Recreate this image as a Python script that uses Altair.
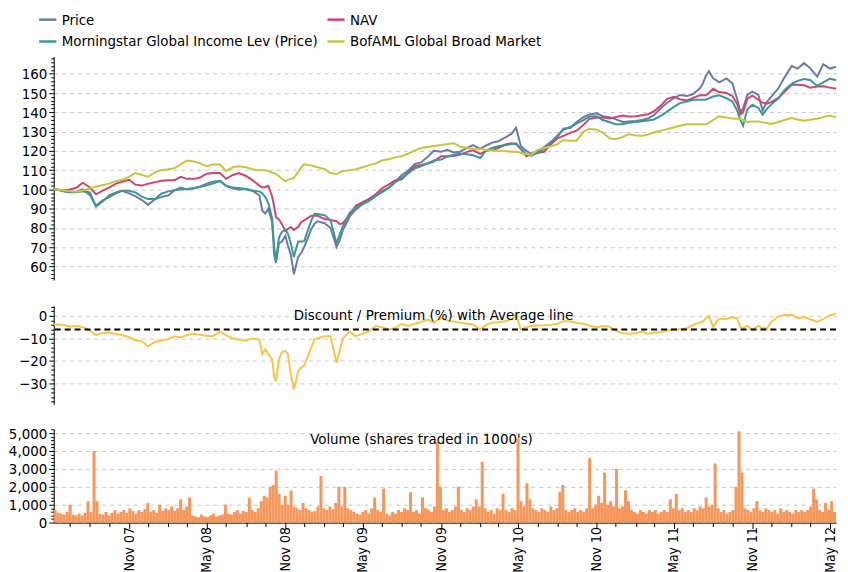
import altair as alt
import pandas as pd

FONT = "Liberation Sans Narrow, Arial Narrow, DejaVu Sans Condensed, sans-serif"
FS = 15

# ---------------- data ----------------
dates = [
    "2007-05-08","2007-05-15","2007-06-01","2007-06-15","2007-07-01","2007-07-15","2007-08-01","2007-08-15","2007-09-01","2007-09-15",
    "2007-10-01","2007-10-15","2007-11-01","2007-11-15","2007-12-01","2007-12-15","2008-01-01","2008-01-15","2008-02-01","2008-02-15",
    "2008-03-01","2008-03-15","2008-04-01","2008-04-15","2008-05-01","2008-05-15","2008-06-01","2008-06-15","2008-07-01","2008-07-15",
    "2008-08-01","2008-08-15","2008-09-01","2008-09-08","2008-09-15","2008-09-22","2008-10-01","2008-10-06","2008-10-10","2008-10-17",
    "2008-10-24","2008-11-01","2008-11-07","2008-11-14","2008-11-21","2008-12-01","2008-12-08","2008-12-15","2009-01-01","2009-01-08",
    "2009-01-15","2009-02-01","2009-02-15","2009-03-01","2009-03-09","2009-03-16","2009-04-01","2009-04-15","2009-05-01","2009-05-15",
    "2009-06-01","2009-06-15","2009-07-01","2009-07-15","2009-08-01","2009-08-15","2009-09-01","2009-09-15","2009-10-01","2009-10-15",
    "2009-11-01","2009-11-15","2009-12-01","2009-12-15","2010-01-01","2010-01-15","2010-02-01","2010-02-15","2010-03-01","2010-03-15",
    "2010-04-01","2010-04-15","2010-04-26","2010-05-07","2010-05-20","2010-06-01","2010-06-15","2010-07-01","2010-07-15","2010-08-01",
    "2010-08-15","2010-09-01","2010-09-15","2010-10-01","2010-10-15","2010-11-01","2010-11-15","2010-12-01","2010-12-15","2011-01-01",
    "2011-01-15","2011-02-01","2011-02-15","2011-03-01","2011-03-15","2011-04-01","2011-04-15","2011-05-01","2011-05-15","2011-06-01",
    "2011-06-15","2011-07-01","2011-07-08","2011-07-15","2011-07-22","2011-08-01","2011-08-15","2011-09-01","2011-09-15","2011-09-26",
    "2011-10-04","2011-10-10","2011-10-20","2011-11-01","2011-11-15","2011-11-25","2011-12-05","2011-12-15","2012-01-01","2012-01-15",
    "2012-02-01","2012-02-15","2012-03-01","2012-03-15","2012-04-01","2012-04-15","2012-05-01","2012-05-15",
]

price = [
    100, 100, 99, 98.5, 99, 100, 97, 91.6, 94.5, 96,
    98, 99.3, 98, 96.5, 94.5, 92, 95, 96, 97, 99.5,
    101, 100, 100.5, 101.5, 103, 104, 104.5, 101.9, 100.5, 100,
    100.2, 99.5, 97, 89, 87.5, 90, 83, 66, 62, 72,
    73, 76, 71, 66, 56, 65, 67, 70, 79.5, 82,
    83.5, 82.5, 80, 70.2, 74, 79, 86, 89.5, 92.4, 94,
    96.5, 99, 100.8, 103.5, 107.5, 109.5, 113.3, 114, 117, 120,
    119.5, 120.5, 119.2, 119.5, 121.5, 123, 121, 122.8, 124.3, 125,
    127, 128.8, 132, 122.6, 120, 118.5, 119.5, 122, 124.5, 127.5,
    131.5, 132, 135, 137.5, 138.9, 139.5, 138, 137.5, 136.5, 135,
    135.3, 135.5, 136, 136.8, 138.5, 142.2, 145, 147.3, 149, 148.5,
    149.5, 152.5, 155, 159, 161.4, 157.6, 155.5, 157.6, 155, 147,
    140, 142, 149, 150.7, 149, 141, 145.5, 148, 152.5, 158,
    164, 162.7, 165.5, 163, 158.5, 165, 162.7, 163.6,
]

nav = [
    100, 100, 99.5, 100, 101, 103.5, 101, 97.5, 99.5, 101,
    103, 104, 105, 102.5, 102, 103, 103.8, 104.5, 104.8, 104.8,
    106.5, 105.5, 105.5, 106.2, 108.2, 108.5, 108.5, 105.5, 107.5, 108.5,
    107, 105, 102, 101, 101.3, 101.8, 96.5, 91, 85.6, 84.5,
    82, 78.5, 79.5, 80.5, 79, 80.5, 83, 84, 86.4, 86.4,
    86.4, 84.7, 84.2, 83.5, 82, 82.5, 87, 91.5, 93.4, 95,
    97.5, 100.5, 102.5, 104.5, 105.3, 108.5, 112.2, 112.7, 113.5, 114.5,
    117.2, 117.2, 117.4, 118, 119.5, 120.3, 118.5, 120, 120.5, 121.5,
    123.3, 124, 123.5, 121, 117.2, 118.5, 118.9, 119.5, 123.1, 126.5,
    127.8, 129.5, 130.5, 133.5, 136.6, 137.2, 137.3, 136.8, 137.5, 138.3,
    137.8, 138, 138.5, 139, 140.5, 143.6, 147, 148, 146.8, 146.2,
    147.5, 148.8, 148.8, 148.8, 150, 152.2, 150.5, 150, 148.5, 144.5,
    139, 140, 147, 148.8, 146.4, 145, 144.5, 145.3, 147.5, 150.5,
    154.3, 154.3, 154, 152.8, 153.4, 153.5, 152.8, 152.2,
]

morningstar = [
    100, 100, 99, 98.5, 98.5, 99, 98.5, 91.1, 94, 97,
    98.5, 99.3, 99.3, 98.5, 96.3, 95, 95, 97.8, 99, 99.6,
    100, 100.3, 100.8, 101.3, 102.2, 103, 104.4, 101.9, 101, 100.8,
    100.2, 99.3, 99, 98, 96, 93, 85, 70, 63, 75,
    78, 79, 77, 72, 65, 73, 73, 73.2, 84, 87.3,
    87.3, 86.6, 84, 72, 77, 81, 88, 90.5, 92.5, 94,
    96.7, 98.5, 100.8, 103.5, 106, 108.2, 111, 112, 113.5, 115,
    115.5, 117, 118, 118.6, 118.3, 117.7, 116.3, 120.3, 121.5, 122.4,
    123, 123.5, 123.9, 121, 118.3, 117.5, 119, 121, 124, 128,
    131, 132.5, 134.2, 136, 137.8, 138, 136, 135, 133.8, 133.8,
    134.6, 135, 135.4, 135.8, 136.3, 138.3, 140.4, 142.8, 144.8, 145.6,
    146.5, 146.5, 146.5, 146.5, 147.2, 148.2, 148.8, 147.3, 145.6, 141,
    136, 133, 141.6, 143.9, 142.3, 138.8, 141.8, 144, 147.3, 151.5,
    154.8, 156.3, 157.3, 156.8, 153.8, 155.5, 157.5, 156.6,
]

bofaml = [
    100, 100, 99.5, 99, 98.8, 99.5, 100.5, 101.5, 102.3, 103,
    104.3, 105, 106.5, 108.5, 107.5, 106.6, 109, 110, 110.5, 111,
    113, 115, 114.5, 113.5, 112, 113, 113, 109.5, 111.5, 112,
    111.5, 110.5, 110, 110, 110, 109.5, 108.8, 108.5, 108, 107,
    105.5, 104.2, 105, 105.5, 106, 109, 111.5, 113, 112.5, 112,
    111.5, 110.5, 108.5, 108, 109, 109.5, 110, 110.5, 111.5, 112.5,
    113.5, 115, 115.7, 116.5, 117.3, 118.5, 120.3, 121.5, 122, 122.5,
    123, 123.5, 124, 122.3, 121.5, 121, 121, 120.5, 120.3, 120,
    119.8, 119.6, 119.5, 119, 118.3, 118, 120.5, 121.5, 122.3, 123.5,
    125.5, 125.3, 125.3, 130, 131.5, 131, 129.5, 126.5, 126, 127.2,
    128.6, 128, 127.8, 128.5, 129.5, 130.5, 131.3, 132.3, 133, 133.8,
    133.8, 133.8, 133.8, 133.8, 134.5, 136, 138, 137.3, 136.8, 136.7,
    136.5, 136, 135, 135.2, 135.3, 134.8, 134.5, 134, 135, 136,
    137, 136.3, 135.7, 136.2, 136.7, 137.5, 138.3, 137.4,
]

discount = [
    -3.8, -3.8, -4.1, -4.8, -4.5, -5, -6.5, -8.5, -7.5, -7.4,
    -8, -8.5, -9.5, -10.8, -11.3, -13.5, -11.5, -11, -10.2, -9,
    -9.5, -8.5, -8, -8.4, -8.8, -9, -7, -8.5, -10, -10.6,
    -11, -10, -10.5, -17, -14.8, -17, -19.3, -27, -29, -19,
    -16, -15.5, -17, -26, -32.5, -24.5, -23, -22, -14, -10.4,
    -10, -9, -9, -20.8, -15, -10, -7, -9, -8, -7,
    -4.5, -5, -6, -5.5, -3.5, -4.5, -3.5, -2.8, -1.6, -3,
    -1, -2, -2.6, -3, -3.5, -3.8, -6, -4, -3, -2.8,
    -2.4, -1.5, 0.5, -6, -5, -4.5, -4.3, -4.2, -4, -3.5,
    -2.4, -2.4, -3.2, -3.5, -4.4, -5, -4.5, -4.8, -6.5, -7.7,
    -7.9, -7.7, -7, -7.9, -7.5, -7.2, -6.5, -5.9, -6, -5.5,
    -4, -3, -2.5, -1, 0, -4.9, -1.2, -1.5, -0.6, -1,
    -5, -5.4, -4.5, -6.2, -4.4, -5.5, -5.5, -2.8, -0.2, 0.4,
    0.5, -1, -0.5, -1.5, -2.7, -1.5, 0.3, 0.9,
]
avg_discount = -6.0

# weekly volume (shares traded in 1000's), weeks starting 2007-05-08
volume_start = "2007-05-08"
volume = [
    700, 550, 500, 450, 600, 1000, 450, 400, 500, 400,
    550, 1200, 600, 4000, 1200, 500, 450, 600, 400, 550,
    700, 500, 600, 700, 550, 800, 650, 500, 700, 600,
    750, 1100, 600, 700, 550, 1000, 650, 800, 700, 900,
    650, 800, 1300, 700, 900, 1400, 400, 350, 300, 450,
    350, 300, 400, 500, 350, 400, 450, 1000, 500, 450,
    600, 700, 500, 650, 600, 1400, 700, 600, 800, 1200,
    1500, 1400, 2000, 2100, 2900, 1600, 1000, 1500, 1000, 1800,
    900, 800, 700, 1100, 800, 700, 600, 650, 900, 2600,
    800, 700, 900, 750, 1100, 2000, 900, 2000, 800, 700,
    600, 500, 450, 600, 700, 500, 800, 1400, 700, 600,
    1900, 500, 400, 600, 500, 700, 600, 800, 700, 1700,
    600, 700, 500, 1400, 800, 700, 600, 900, 4500, 2000,
    700, 800, 600, 700, 900, 2000, 700, 600, 800, 700,
    900, 1300, 900, 3400, 800, 600, 700, 500, 800, 700,
    1600, 700, 600, 800, 700, 4700, 1200, 900, 2200, 1300,
    800, 700, 600, 800, 700, 600, 900, 700, 800, 1700,
    2100, 700, 600, 700, 800, 600, 700, 600, 800, 3600,
    800, 1000, 1500, 1100, 2800, 1000, 1200, 900, 3000, 800,
    900, 1800, 1200, 700, 600, 500, 700, 600, 500, 700,
    600, 700, 500, 600, 700, 600, 1300, 800, 1600, 700,
    800, 600, 700, 600, 800, 700, 900, 800, 1400, 900,
    1000, 3300, 800, 600, 700, 500, 600, 700, 2000, 5100,
    2800, 800, 700, 600, 800, 1200, 700, 600, 800, 700,
    600, 700, 500, 800, 600, 700, 600, 500, 700, 600,
    700, 600, 700, 900, 1900, 1300, 700, 600, 1100, 700,
    1200, 600,
]

series_names = ["Price", "NAV", "Morningstar Global Income Lev (Price)", "BofAML Global Broad Market"]
series_colors = ["#6B7AA8", "#CC4670", "#3E9696", "#C4C63E"]
disc_title = "Discount / Premium (%) with Average line"
vol_title = "Volume  (shares traded in 1000's)"

# ---------------- tables ----------------
lines_df = pd.DataFrame({"date": pd.to_datetime(dates)})
for name, vals in zip(series_names, [price, nav, morningstar, bofaml]):
    lines_df[name] = vals
lines_long = lines_df.melt("date", var_name="series", value_name="value")

disc_df = pd.DataFrame({"date": pd.to_datetime(dates), "discount": discount})
avg_df = pd.DataFrame({"avg": [avg_discount]})

vol_df = pd.DataFrame({"start": pd.date_range(volume_start, periods=len(volume), freq="7D"), "volume": volume})
vol_df["end"] = vol_df["start"] + pd.Timedelta(days=7)
vol_df["base"] = 0

# ---------------- helpers ----------------
W = 787
x_scale = alt.Scale(domain=[alt.DateTime(year=2007, month=5, date=8),
                            alt.DateTime(year=2012, month=5, date=15)])


def y_axis(values, major, fmt="d"):
    test = f"datum.value % {major} === 0"
    return alt.Axis(
        values=values, title=None, format=fmt,
        labelExpr=f"{test} ? datum.label : ''",
        tickSize={"condition": {"test": test, "value": 5}, "value": 3},
        gridOpacity={"condition": {"test": test, "value": 1}, "value": 0},
        labelOverlap=False, grid=True,
    )


tick_dates = []
for yr in range(2007, 2013):
    for (m, d) in [(2, 1), (3, 15), (5, 1), (6, 15), (8, 1), (9, 15), (11, 1), (12, 15)]:
        if (yr == 2007 and m < 6) or (yr == 2012 and m > 5):
            continue
        tick_dates.append(alt.DateTime(year=yr, month=m, date=d))

major_test = "month(datum.value) == 4 || month(datum.value) == 10"
x_axis = alt.Axis(
    values=tick_dates, title=None, grid=False, labelAngle=-90,
    labelExpr=f"({major_test}) ? timeFormat(datum.value, '%b %y') : ''",
    tickSize={"condition": {"test": major_test, "value": 6}, "value": 4},
    labelOverlap=False, labelPadding=-2, labelFontSize=14,
)

# ---------------- top panel ----------------
top = alt.Chart(lines_long).mark_line(strokeWidth=2).encode(
    x=alt.X("date:T", scale=x_scale, axis=None),
    y=alt.Y("value:Q", scale=alt.Scale(domain=[53, 169], nice=False, zero=False),
            axis=y_axis(list(range(54, 169, 2)), 10)),
    color=alt.Color("series:N", sort=series_names,
                    scale=alt.Scale(domain=series_names, range=series_colors),
                    legend=alt.Legend(title=None, orient="none", direction="horizontal",
                                      legendX=-16, legendY=-47,
                                      columns=2, symbolType="stroke",
                                      symbolStrokeWidth=2.5, symbolSize=300, labelFontSize=FS,
                                      labelFont=FONT, labelColor="black", rowPadding=4,
                                      columnPadding=4, padding=0, labelLimit=400)),
).properties(width=W, height=225)

# ---------------- middle panel ----------------
disc_axis = y_axis(list(range(-38, 5, 2)), 10)
mid_line = alt.Chart(disc_df).mark_line(color="#F7C548", strokeWidth=2).encode(
    x=alt.X("date:T", scale=x_scale, axis=None),
    y=alt.Y("discount:Q", scale=alt.Scale(domain=[-39.2, 4.4], nice=False, zero=False), axis=disc_axis),
)
avg_rule = alt.Chart(avg_df).mark_rule(color="black", strokeWidth=2, strokeDash=[6, 4]).encode(
    y=alt.Y("avg:Q", axis=disc_axis),
)
mid_text = alt.Chart(pd.DataFrame({"t": [disc_title]})).mark_text(
    font=FONT, fontSize=FS, color="black", align="center", baseline="middle"
).encode(text="t:N", x=alt.value(382), y=alt.value(9))
mid = alt.layer(mid_line, avg_rule, mid_text).properties(width=W, height=99)

# ---------------- bottom panel ----------------
vol_axis = y_axis(list(range(0, 5201, 200)), 1000, fmt=",d")
bars = alt.Chart(vol_df).mark_bar(color="#F5975A").encode(
    x=alt.X("start:T", scale=x_scale, axis=x_axis),
    x2="end:T",
    y=alt.Y("volume:Q", scale=alt.Scale(domain=[0, 5220], nice=False), axis=vol_axis),
    y2="base:Q",
)
vol_text = alt.Chart(pd.DataFrame({"t": [vol_title]})).mark_text(
    font=FONT, fontSize=FS, color="black", align="center", baseline="middle"
).encode(text="t:N", x=alt.value(370), y=alt.value(10))
bottom = alt.layer(bars, vol_text).properties(width=W, height=94)

chart = alt.vconcat(top, mid, bottom, spacing=12).properties(
    padding={"left": 0, "right": 0, "top": 0, "bottom": 0}
).configure_view(stroke=None).configure_axis(
    labelFont=FONT, labelFontSize=FS, labelColor="black", domainColor="black",
    tickColor="black", gridColor="#c8c8c8", gridDash=[4, 4], labelPadding=2,
)

chart.save("out.html", embed_options={"renderer": "svg", "actions": False})
